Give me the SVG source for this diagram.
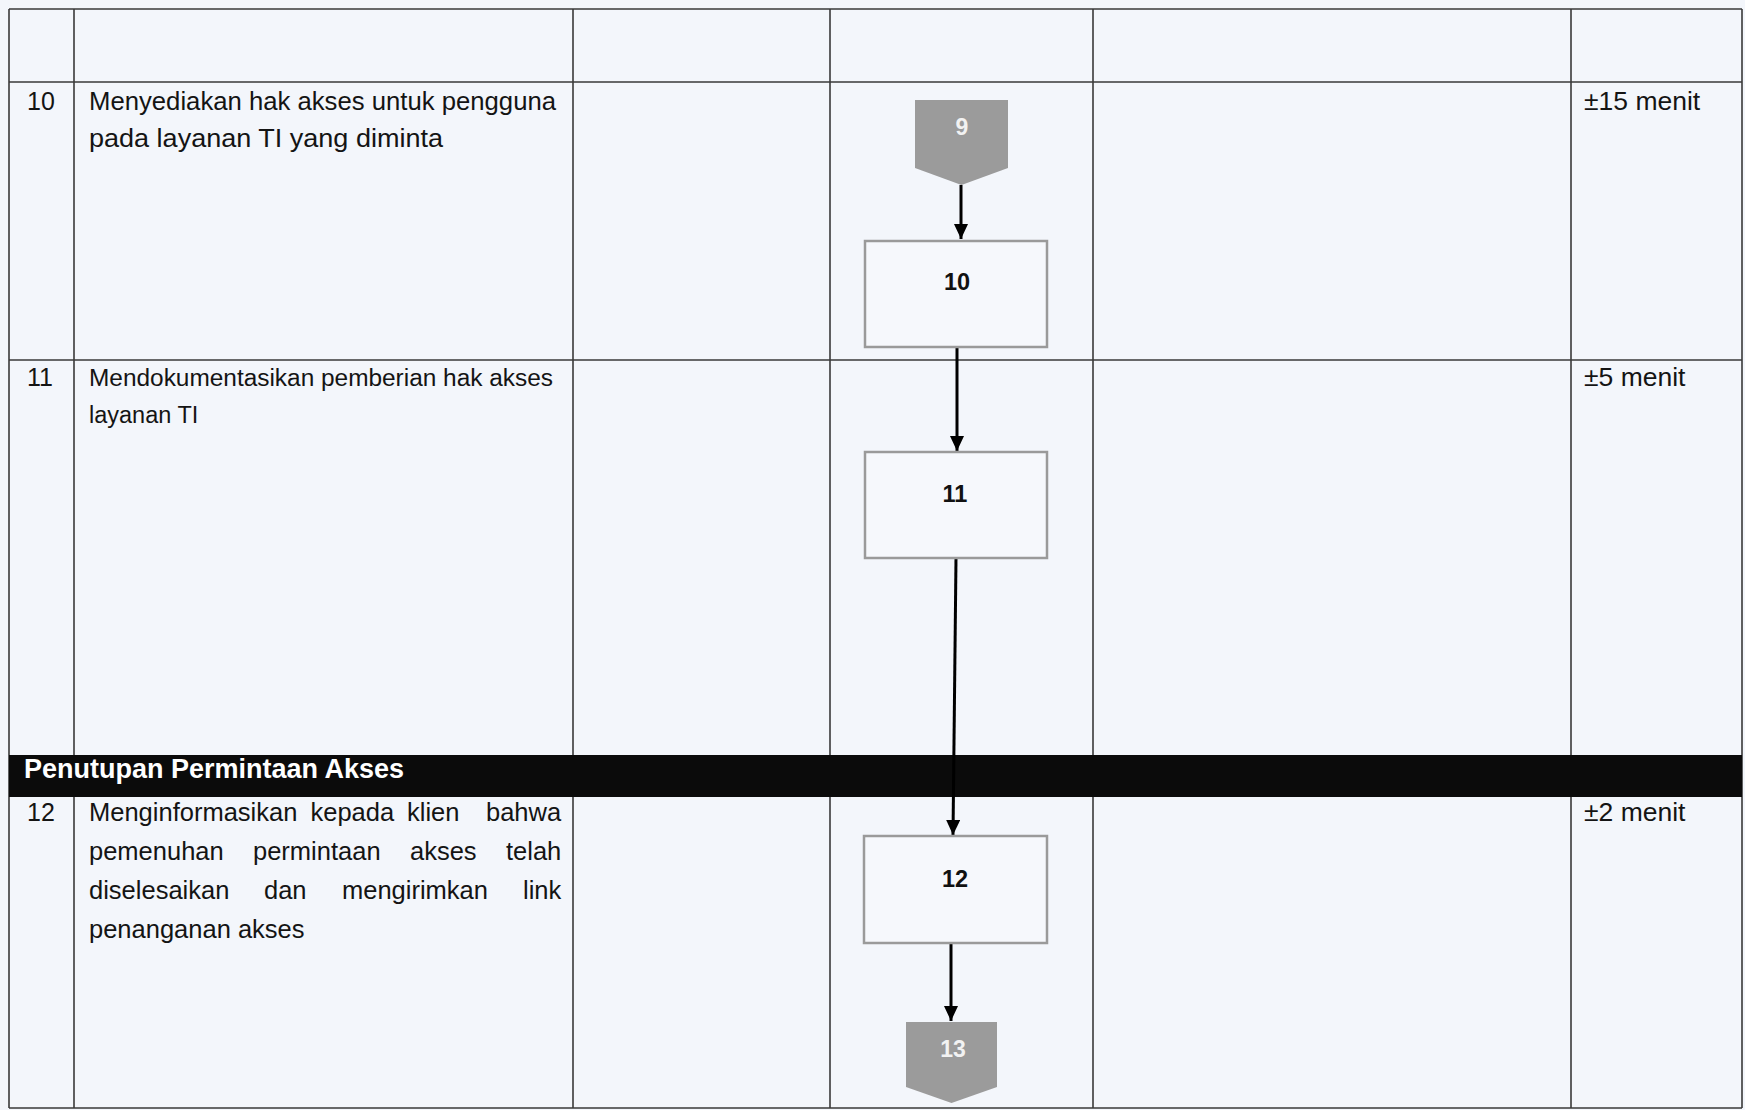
<svg xmlns="http://www.w3.org/2000/svg" width="1745" height="1110" viewBox="0 0 1745 1110">
<style>
.bg{fill:#f3f6fb}
.grid{stroke:#3a3a3a;stroke-width:1.6;fill:none}
.t{font-family:"Liberation Sans",Arial,sans-serif;font-size:25px;fill:#141414}
.t12{font-family:"Liberation Sans",Arial,sans-serif;font-size:25.5px;fill:#141414}
.t11{font-family:"Liberation Sans",Arial,sans-serif;font-size:23.5px;fill:#141414}
.tr{font-family:"Liberation Sans",Arial,sans-serif;font-size:26.5px;fill:#141414}
.hdr{font-family:"Liberation Sans",Arial,sans-serif;font-size:27px;font-weight:bold;fill:#ffffff}
.box{fill:#f6f8fc;stroke:#9a9a9a;stroke-width:2.5}
.bl{font-family:"Liberation Sans",Arial,sans-serif;font-size:23.5px;font-weight:bold;fill:#111;text-anchor:middle}
.off{fill:#9b9b9b}
.ol{font-family:"Liberation Sans",Arial,sans-serif;font-size:23px;font-weight:bold;fill:#f2f2f2;text-anchor:middle}
.conn{stroke:#000;stroke-width:3;fill:none;marker-end:url(#ah)}
</style>
<defs>
<marker id="ah" markerUnits="userSpaceOnUse" markerWidth="16" markerHeight="16" refX="15" refY="7" orient="auto">
<path d="M0,0 L15,7 L0,14 z" fill="#000"/>
</marker>
</defs>
<rect class="bg" x="0" y="0" width="1745" height="1110"/>
<g id="table">
<path class="grid" d="M9,9 H1742 M9,82 H1742 M9,360 H1742 M9,1108 H1742 M9,9 V1108 M74,9 V1108 M573,9 V1108 M830,9 V1108 M1093,9 V1108 M1571,9 V1108 M1742,9 V1108"/>
<rect x="9" y="755" width="1733" height="42" fill="#0b0b0b"/>
<text class="hdr" x="24" y="778">Penutupan Permintaan Akses</text>
</g>
<g id="row10">
<text class="t" x="27" y="110">10</text>
<text class="t" x="89" y="110" textLength="467" lengthAdjust="spacingAndGlyphs">Menyediakan hak akses untuk pengguna</text>
<text class="t" x="89" y="147" textLength="354" lengthAdjust="spacingAndGlyphs">pada layanan TI yang diminta</text>
<text class="tr" x="1584" y="110">±15 menit</text>
</g>
<g id="row11">
<text class="t" x="27" y="386">11</text>
<text class="t11" x="89" y="386" textLength="464" lengthAdjust="spacingAndGlyphs">Mendokumentasikan pemberian hak akses</text>
<text class="t11" x="89" y="423">layanan TI</text>
<text class="tr" x="1584" y="386">±5 menit</text>
</g>
<g id="row12">
<text class="t" x="27" y="821">12</text>
<text class="t12" y="821"><tspan x="89">Menginformasikan</tspan><tspan x="310.5">kepada</tspan><tspan x="407">klien</tspan><tspan x="486">bahwa</tspan></text>
<text class="t12" y="860"><tspan x="89">pemenuhan</tspan><tspan x="253">permintaan</tspan><tspan x="410">akses</tspan><tspan x="506">telah</tspan></text>
<text class="t12" y="899"><tspan x="89">diselesaikan</tspan><tspan x="264">dan</tspan><tspan x="342">mengirimkan</tspan><tspan x="523">link</tspan></text>
<text class="t12" x="89" y="938">penanganan akses</text>
<text class="tr" x="1584" y="821">±2 menit</text>
</g>
<g id="connectors">
<path class="conn" d="M961,185 V239"/>
<path class="conn" d="M957,347 V451"/>
<path class="conn" d="M956,558 L953,835"/>
<path class="conn" d="M951,943 V1021"/>
</g>
<g id="node-9">
<path class="off" d="M915,100 H1008 V168 L961.5,185 L915,168 Z"/>
<text class="ol" x="962" y="135">9</text>
</g>
<g id="node-10">
<rect class="box" x="865" y="241" width="182" height="106"/>
<text class="bl" x="957" y="290">10</text>
</g>
<g id="node-11">
<rect class="box" x="865" y="452" width="182" height="106"/>
<text class="bl" x="955" y="502">11</text>
</g>
<g id="node-12">
<rect class="box" x="864" y="836" width="183" height="107"/>
<text class="bl" x="955" y="887">12</text>
</g>
<g id="node-13">
<path class="off" d="M906,1022 H997 V1087 L951.5,1103 L906,1087 Z"/>
<text class="ol" x="953" y="1057">13</text>
</g>
</svg>
